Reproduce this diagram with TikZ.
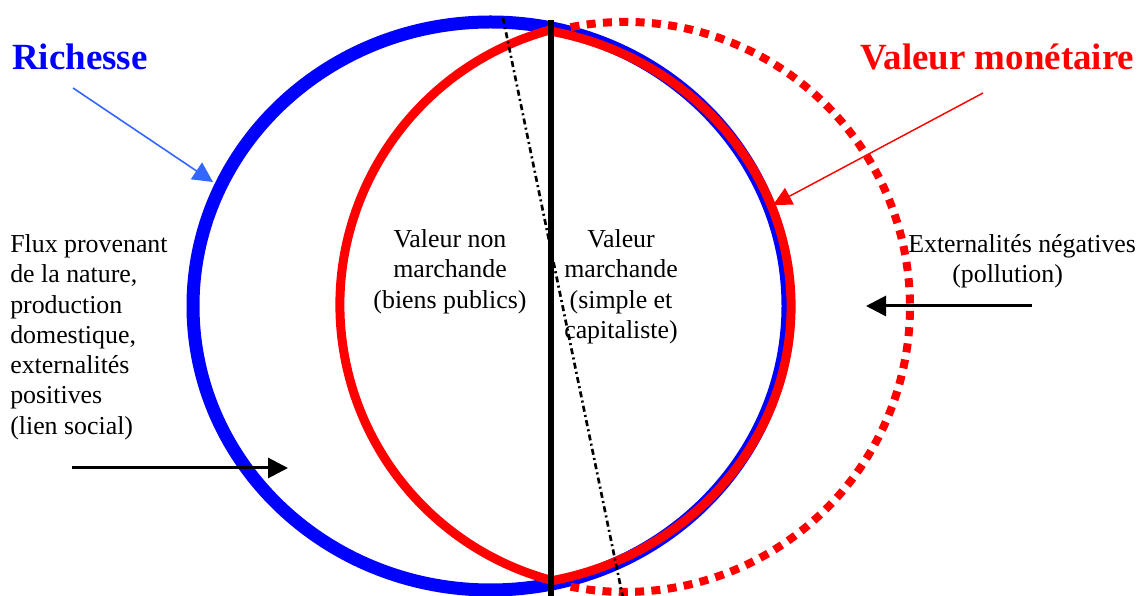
\documentclass[tikz,border=0pt]{standalone}
\usepackage{fontspec}
\setmainfont{Liberation Serif}
\usetikzlibrary{arrows.meta}
\definecolor{richblue}{RGB}{0,0,255}
\definecolor{arrowblue}{RGB}{51,102,255}
\definecolor{monred}{RGB}{255,0,0}
\begin{document}
\begin{tikzpicture}[x=0.75pt,y=0.75pt,
  txt/.style={font=\fontsize{19.4}{22.7}\selectfont, inner sep=0pt},
  titletxt/.style={font=\fontsize{27.7}{32}\selectfont\bfseries, inner sep=0pt},
  bigarrow/.style={line width=2.25pt, -{Triangle[length=15pt,width=15pt]}},
  richring/.style={draw=richblue, line width=9.75pt},
  monring/.style={draw=monred, line width=6.75pt, line join=round, line cap=round},
  extring/.style={draw=monred, line width=6pt, dash pattern=on 6.75pt off 5.5pt},
  divline/.style={draw=black, line width=4.5pt},
  dashdotline/.style={draw=black, line width=2pt, dash pattern=on 4.5pt off 2.5pt on 1.5pt off 2.5pt}
]
\useasboundingbox (0,0) rectangle (1143,596);
% Richesse ring
\draw[richring] (490.5,290) ellipse [x radius=223.125pt, y radius=213pt];
% Valeur monetaire (solid lens)
\draw[monring] (551.2,566.3) arc[start angle=105, end angle=255, radius=213.75pt]
  -- (550.7,15.1) arc[start angle=-79, end angle=79, x radius=222.75pt, y radius=210pt] -- cycle;
% Valeur monetaire (dotted part)
\draw[extring] (570.6,568.8) arc[start angle=101, end angle=-101, radius=213.75pt];
% dividing lines
\coordinate (vtop) at (551,576);
\coordinate (vbot) at (551,-5);
\draw[divline] (vtop) -- (vbot);
\coordinate (dtop) at (503,578);
\coordinate (dbot) at (623,-2);
\draw[dashdotline] (dtop) -- (dbot);
% titles
\node[titletxt, text=richblue, anchor=base west] (rich) at (12,526) {Richesse};
\node[titletxt, text=monred, anchor=base west] (valm) at (860,526) {Valeur monétaire};
% title arrows
\coordinate (richS) at (73,508);
\coordinate (richE) at (213,414);
\draw[arrowblue, line width=1.2pt, -{Triangle[length=15pt,width=15pt]}] (richS) -- (richE);
\coordinate (valS) at (983,503);
\coordinate (valE) at (773,391);
\draw[monred, line width=1.1pt, -{Triangle[length=14pt,width=14pt]}] (valS) -- (valE);
% texts
\node[txt, anchor=north west, align=left] (flux) at (10,361.6)
  {Flux provenant\\de la nature,\\production\\domestique,\\externalités\\positives\\(lien social)};
\node[txt, anchor=north, align=center] (nonm) at (450,366.6)
  {Valeur non\\marchande\\(biens publics)};
\node[txt, anchor=north, align=center] (march) at (621,366.6)
  {Valeur\\marchande\\(simple et\\capitaliste)};
\node[txt, anchor=north west, align=left] (extn) at (908,361.6)
  {Externalités négatives\\\hspace*{33pt}(pollution)};
% flux arrows
\coordinate (inS) at (72,128);
\coordinate (inE) at (288,128);
\draw[bigarrow] (inS) -- (inE);
\coordinate (outS) at (1032,290);
\coordinate (outE) at (866,290);
\draw[bigarrow] (outS) -- (outE);
\end{tikzpicture}
\end{document}
